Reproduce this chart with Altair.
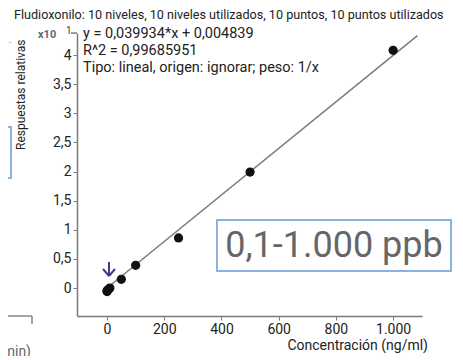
import altair as alt
import pandas as pd

# Calibration points (concentration ng/ml, relative response x10)
conc = [0.1, 0.5, 1, 5, 10, 50, 100, 250, 500, 1000]
resp = [-0.06, -0.05, -0.04, -0.02, 0.0, 0.15, 0.39, 0.86, 1.99, 4.08]

# Regression line end points
fit_x = [0, 1085]
fit_y = [0.0005, 4.333]

y_ticks = [0, 0.5, 1, 1.5, 2, 2.5, 3, 3.5, 4]
x_ticks = [0, 200, 400, 600, 800, 1000]

title_text = "Fludioxonilo: 10 niveles, 10 niveles utilizados, 10 puntos, 10 puntos utilizados"
eq_lines = ["y = 0,039934*x + 0,004839", "R^2 = 0,99685951", "Tipo: lineal, origen: ignorar; peso: 1/x"]
box_text = "0,1-1.000 ppb"

W, H = 345, 283
FONT = "Roboto"

pts = pd.DataFrame({"x": conc, "y": resp})
fit = pd.DataFrame({"x": fit_x, "y": fit_y})
one = pd.DataFrame({"d": [0]})

xs = alt.Scale(domain=[-105, 1101], nice=False, zero=False)
ys = alt.Scale(domain=[-0.48, 4.378], nice=False, zero=False)

x_axis = alt.Axis(values=x_ticks, title=None, grid=False, labelOverlap=False,
                  labelExpr="replace(format(datum.value, ','), ',', '.')")
y_axis = alt.Axis(values=y_ticks, title=None, grid=False, labelOverlap=False,
                  labelExpr="replace(format(datum.value, '~g'), '.', ',')")

line = alt.Chart(fit).mark_line(color="#7a7a7a", strokeWidth=1.5).encode(
    x=alt.X("x:Q", scale=xs, axis=x_axis),
    y=alt.Y("y:Q", scale=ys, axis=y_axis),
)
points = alt.Chart(pts).mark_circle(color="#111111", size=85, opacity=1).encode(
    x=alt.X("x:Q", scale=xs, axis=x_axis),
    y=alt.Y("y:Q", scale=ys, axis=y_axis),
)

def txt(s, x, y, size=12, color="#222222", align="left", angle=0, weight="normal", baseline="alphabetic"):
    kw = dict(text=s, align=align, baseline=baseline, fontSize=size, color=color,
              font=FONT, fontWeight=weight)
    if angle:
        kw["angle"] = angle
    return alt.Chart(one).mark_text(**kw).encode(x=alt.value(x), y=alt.value(y))

def rule(x1, y1, x2, y2, color="#7a7a7a", width=1.5):
    return alt.Chart(one).mark_rule(color=color, strokeWidth=width).encode(
        x=alt.value(x1), y=alt.value(y1), x2=alt.value(x2), y2=alt.value(y2))

layers = [
    line, points,
    txt(title_text, -63, -14, size=12.6),
    txt(eq_lines[0], 6, 5, size=14.5),
    txt(eq_lines[1], 6, 22, size=14.5),
    txt(eq_lines[2], 6, 39, size=14.5),
    txt("x10", -39, 2, size=11, color="#666666", weight="bold", baseline="middle"),
    txt("1", -11, -2, size=10, color="#444444", baseline="middle"),
    rule(-6, 0, 0, 0),
    txt("Respuestas relativas", -56, 117, size=12, angle=270, baseline="middle"),
    txt("Concentración (ng/ml)", 351, 317, size=14, align="right"),
    # arrow
    rule(32, 229, 32, 243, color="#3b3a8c", width=2),
    rule(26, 236, 32, 243, color="#3b3a8c", width=2),
    rule(38, 236, 32, 243, color="#3b3a8c", width=2),
    # range box
    alt.Chart(one).mark_rect(fill="white", stroke="#8cb3dd", strokeWidth=2).encode(
        x=alt.value(140), x2=alt.value(374), y=alt.value(187), y2=alt.value(238)),
    txt(box_text, 257, 213, size=36, color="#666666", align="center", baseline="middle"),
    # fragments of neighbouring panel (cropped)
    txt("1...", -65, 7, size=11, color="#999999", align="right", baseline="middle"),
    alt.Chart(one).mark_rect(fill="white", stroke="#8cb3dd", strokeWidth=2).encode(
        x=alt.value(-120), x2=alt.value(-66), y=alt.value(94), y2=alt.value(145)),
    rule(-80, 283, -45, 283, color="#888888"),
    rule(-45, 283, -45, 291, color="#888888"),
    txt("min)", -46, 319, size=14, color="#666666", align="right", baseline="middle"),
]

chart = alt.layer(*layers).properties(
    width=W, height=H,
    autosize=alt.AutoSizeParams(type="none"),
    padding={"left": 69, "top": 25, "right": 32, "bottom": 40},
).configure_view(stroke=None).configure_axis(
    domainColor="#7a7a7a", domainWidth=1.5, tickColor="#7a7a7a", tickSize=4,
    labelFont=FONT, labelFontSize=14, labelColor="#222222", labelPadding=2,
)

chart.save("out.html", embed_options={"renderer": "svg", "actions": False})
